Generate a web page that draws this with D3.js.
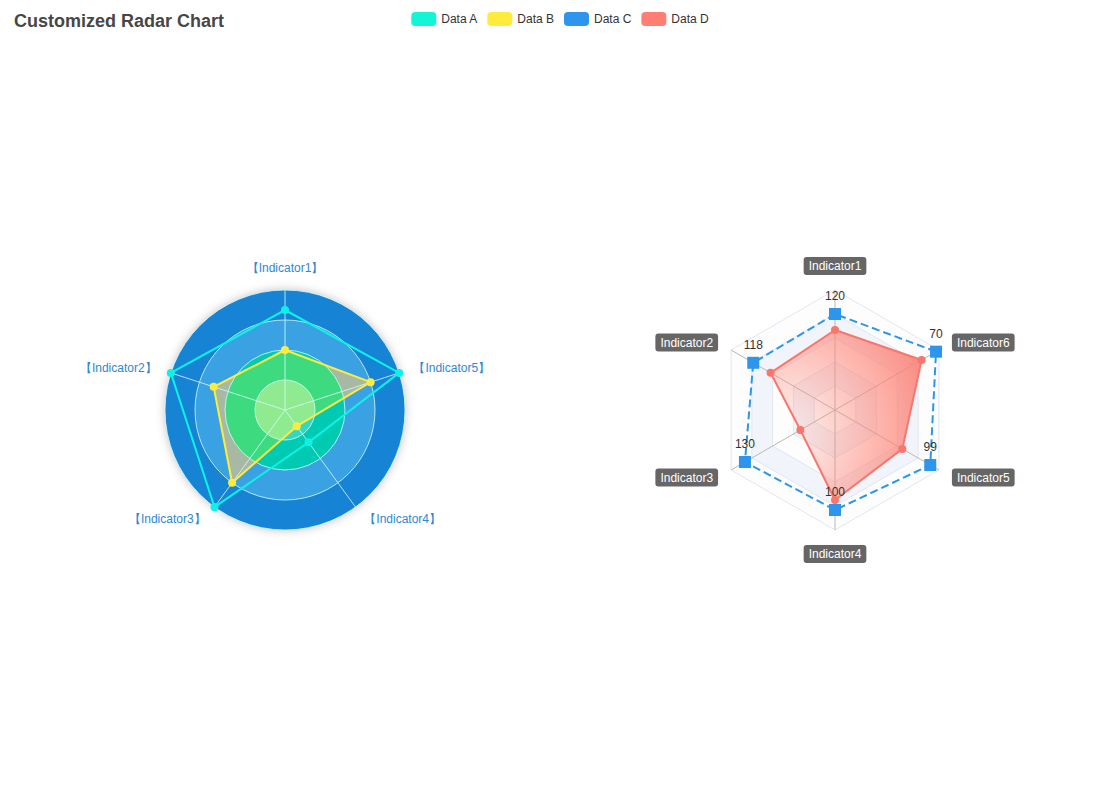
<!DOCTYPE html>
<html>
<head>
<meta charset="utf-8">
<script src="https://cdn.jsdelivr.net/npm/d3@7"></script>
<style>
  html, body { margin: 0; padding: 0; background: #fff; }
  svg { display: block; font-family: "Liberation Sans", Arial, sans-serif; }
</style>
</head>
<body>
<svg id="chart" width="1116" height="794"></svg>
<script>
// ---------- data ----------
const titleText = "Customized Radar Chart";
const seriesNames = ["Data A", "Data B", "Data C", "Data D"];

const leftIndicators = ["Indicator1", "Indicator2", "Indicator3", "Indicator4", "Indicator5"];
const leftMin = [0, 0, 0, -120, 0];
const leftMax = [120, 8, 0.4, 0, 2000];
const dataA = [100, 8, 0.4, -80, 2000];
const dataB = [60, 5, 0.3, -100, 1500];

const rightIndicators = ["Indicator1", "Indicator2", "Indicator3", "Indicator4", "Indicator5", "Indicator6"];
const rightMax = [150, 150, 150, 120, 108, 72];
const dataC = [120, 118, 130, 100, 99, 70];
const dataD = [100, 93, 50, 90, 70, 60];

// ---------- styles ----------
const colors = ["#14F5D6", "#FFEB3B", "#2D96EC", "#FF7E74"];
const lineA = "#0CF2E6";
const R = 120;
const leftC = [285, 410];
const rightC = [835, 410];

const svg = d3.select("#chart");
const defs = svg.append("defs");

// shadow filter
const f = defs.append("filter").attr("id", "shadow").attr("x", "-20%").attr("y", "-20%").attr("width", "140%").attr("height", "140%");
f.append("feDropShadow").attr("dx", 0).attr("dy", 0).attr("stdDeviation", 5).attr("flood-color", "rgba(0,0,0,0.25)");

// title
svg.append("text").attr("x", 14).attr("y", 27).text(titleText)
  .attr("font-size", 18).attr("font-weight", "bold").attr("fill", "#464646");

// legend
const legend = svg.append("g");
let lx = 0;
seriesNames.forEach((n, i) => {
  const g = legend.append("g").attr("transform", `translate(${lx},0)`);
  g.append("rect").attr("x", 0).attr("y", 12).attr("width", 25).attr("height", 14).attr("rx", 4).attr("fill", colors[i]);
  const t = g.append("text").attr("x", 30).attr("y", 23).text(n).attr("font-size", 12).attr("fill", "#333");
  lx += 30 + t.node().getComputedTextLength() + 10;
});
const lw = lx - 10;
legend.attr("transform", `translate(${560 - lw / 2},0)`);

// ---------- left radar ----------
const angL = d3.scaleLinear().domain([0, leftIndicators.length]).range([Math.PI / 2, Math.PI / 2 + 2 * Math.PI]);
const radL = leftIndicators.map((_, i) => d3.scaleLinear().domain([leftMin[i], leftMax[i]]).range([0, R]));
const ptL = (v, i) => {
  const a = angL(i), r = radL[i](v);
  return [leftC[0] + r * Math.cos(a), leftC[1] - r * Math.sin(a)];
};
const gl = svg.append("g");
const ringR = d3.scaleLinear().domain([0, 4]).range([0, R]);
const ringBase = ["#33D8C4", "#00CBB2", "#3AA2E2", "#1383D4"];
const ringInB = ["#90EA90", "#3EDA80", "#A7B9A4", "#1383D4"];
[3, 2, 1, 0].forEach(k => {
  gl.append("circle").attr("cx", leftC[0]).attr("cy", leftC[1]).attr("r", ringR(k + 1))
    .attr("fill", ringBase[k]).attr("filter", k === 3 ? "url(#shadow)" : null);
});
const bPts = dataB.map(ptL);
defs.append("clipPath").attr("id", "clipB").append("polygon").attr("points", bPts.map(p => p.join(",")).join(" "));
const gIn = gl.append("g").attr("clip-path", "url(#clipB)");
[2, 1, 0].forEach(k => {
  gIn.append("circle").attr("cx", leftC[0]).attr("cy", leftC[1]).attr("r", ringR(k + 1)).attr("fill", ringInB[k]);
});
[1, 2, 3, 4].forEach(k => {
  gl.append("circle").attr("cx", leftC[0]).attr("cy", leftC[1]).attr("r", ringR(k))
    .attr("fill", "none").attr("stroke", "rgba(211,253,250,0.8)").attr("stroke-width", 1);
});
leftIndicators.forEach((name, i) => {
  const a = angL(i);
  gl.append("line").attr("x1", leftC[0]).attr("y1", leftC[1])
    .attr("x2", leftC[0] + R * Math.cos(a)).attr("y2", leftC[1] - R * Math.sin(a))
    .attr("stroke", "rgba(211,253,250,0.8)").attr("stroke-width", 1);
  const lr = R + 15;
  const x = leftC[0] + lr * Math.cos(a), y = leftC[1] - lr * Math.sin(a);
  const c = Math.cos(a), s = Math.sin(a);
  const anchor = Math.abs(c) < 0.01 ? "middle" : (c > 0 ? "start" : "end");
  const dy = Math.abs(s) > 0.99 ? (s > 0 ? -3 : 12) : (s > 0 ? 4 : 4);
  gl.append("text").attr("x", x).attr("y", y + dy).attr("text-anchor", anchor)
    .attr("font-size", 12).attr("fill", "#2E88D2").text("【" + name + "】");
});
// series
function drawPoly(g, pts, stroke, fill, width, dash) {
  g.append("path").attr("d", d3.line()(pts) + "Z")
    .attr("fill", fill).attr("stroke", stroke).attr("stroke-width", width)
    .attr("stroke-dasharray", dash || null).attr("stroke-linejoin", "round");
}
drawPoly(gl, bPts, colors[1], "none", 2);
const aPts = dataA.map(ptL);
drawPoly(gl, aPts, lineA, "none", 2);
bPts.forEach(p => gl.append("circle").attr("cx", p[0]).attr("cy", p[1]).attr("r", 4).attr("fill", colors[1]));
aPts.forEach(p => gl.append("circle").attr("cx", p[0]).attr("cy", p[1]).attr("r", 4).attr("fill", lineA));

// ---------- right radar ----------
const n2 = rightIndicators.length;
const angR = d3.scaleLinear().domain([0, n2]).range([Math.PI / 2, Math.PI / 2 + 2 * Math.PI]);
const radR = rightIndicators.map((_, i) => d3.scaleLinear().domain([0, rightMax[i]]).range([0, R]));
const ptR = (v, i) => {
  const a = angR(i), r = radR[i](v);
  return [rightC[0] + r * Math.cos(a), rightC[1] - r * Math.sin(a)];
};
const gr = svg.append("g");
const split = d3.scaleLinear().domain([0, 5]).range([0, R]);
const polyAt = r => d3.range(n2).map(i => [rightC[0] + r * Math.cos(angR(i)), rightC[1] - r * Math.sin(angR(i))]);
const bandCols = ["rgba(250,250,250,0.3)", "rgba(210,219,238,0.3)"];
for (let k = 4; k >= 0; k--) {
  // annulus between split(k) and split(k+1)
  const outer = polyAt(split(k + 1)), inner = polyAt(split(k));
  const d = d3.line()(outer) + "Z" + (k > 0 ? d3.line()(inner.slice().reverse()) + "Z" : "");
  gr.append("path").attr("d", d).attr("fill", bandCols[k % 2]).attr("fill-rule", "evenodd");
}
for (let k = 1; k <= 5; k++) {
  gr.append("path").attr("d", d3.line()(polyAt(split(k))) + "Z").attr("fill", "none")
    .attr("stroke", "#E0E6F1").attr("stroke-width", 1);
}
rightIndicators.forEach((name, i) => {
  const a = angR(i);
  gr.append("line").attr("x1", rightC[0]).attr("y1", rightC[1])
    .attr("x2", rightC[0] + R * Math.cos(a)).attr("y2", rightC[1] - R * Math.sin(a))
    .attr("stroke", "#B8B8B8").attr("stroke-width", 1);
});
// D area
const grad = defs.append("radialGradient").attr("id", "gradD").attr("cx", 0.1).attr("cy", 0.6).attr("r", 1);
grad.append("stop").attr("offset", 0).attr("stop-color", "rgb(255,140,124)").attr("stop-opacity", 0.1);
grad.append("stop").attr("offset", 1).attr("stop-color", "rgb(252,128,116)").attr("stop-opacity", 0.9);
const dPts = dataD.map(ptR);
const cPts = dataC.map(ptR);
drawPoly(gr, dPts, "#F8766C", "url(#gradD)", 2);
drawPoly(gr, cPts, colors[2], "none", 2, "8,4");
dPts.forEach(p => gr.append("circle").attr("cx", p[0]).attr("cy", p[1]).attr("r", 4).attr("fill", "#F8766C"));
cPts.forEach((p, i) => {
  gr.append("rect").attr("x", p[0] - 6).attr("y", p[1] - 6).attr("width", 12).attr("height", 12).attr("fill", colors[2]);
  gr.append("text").attr("x", p[0]).attr("y", p[1] - 14).attr("text-anchor", "middle")
    .attr("font-size", 12).attr("fill", "#333").text(dataC[i]);
});
// axis names with boxes
rightIndicators.forEach((name, i) => {
  const a = angR(i);
  const lr = R + 15;
  const x = rightC[0] + lr * Math.cos(a), y = rightC[1] - lr * Math.sin(a);
  const c = Math.cos(a), s = Math.sin(a);
  const g = gr.append("g");
  const t = g.append("text").attr("font-size", 12).attr("fill", "#fff").text(name);
  const w = t.node().getComputedTextLength() + 10, h = 18;
  let bx, by;
  if (Math.abs(c) < 0.01) bx = x - w / 2; else bx = c > 0 ? x : x - w;
  if (Math.abs(s) > 0.99) by = s > 0 ? y - h : y; else by = y - h / 2;
  g.insert("rect", "text").attr("x", bx).attr("y", by).attr("width", w).attr("height", h).attr("rx", 3).attr("fill", "#666");
  t.attr("x", bx + 5).attr("y", by + 13);
});
</script>
</body>
</html>
